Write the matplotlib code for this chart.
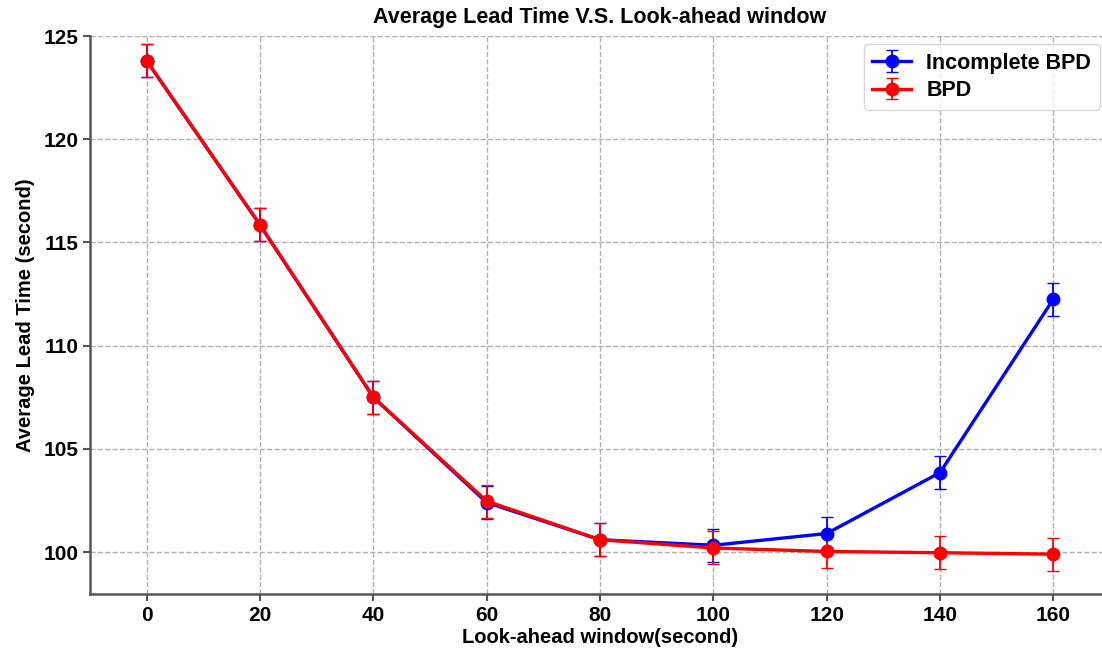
import matplotlib.pyplot as plt

plt.rcParams['font.family'] = ['Liberation Sans', 'DejaVu Sans']
plt.rcParams['font.weight'] = 'bold'

window = [0, 20, 40, 60, 80, 100, 120, 140, 160]
incomplete_bpd = [123.8, 115.85, 107.5, 102.4, 100.6, 100.33, 100.9, 103.85, 112.25]
incomplete_err = [0.8, 0.8, 0.8, 0.8, 0.8, 0.8, 0.8, 0.8, 0.8]
bpd = [123.8, 115.85, 107.5, 102.47, 100.6, 100.2, 100.03, 99.97, 99.9]
bpd_err = [0.8, 0.8, 0.8, 0.8, 0.8, 0.8, 0.8, 0.8, 0.8]


def plot_lead_time():
    fig = plt.figure(figsize=(11.02, 6.52), dpi=100)
    ax = fig.add_axes([90 / 1102, 1 - 594 / 652, 1020 / 1102, (594 - 36) / 652])

    ax.errorbar(window, incomplete_bpd, yerr=incomplete_err, color='#0000ff',
                marker='o', markersize=9, linewidth=2.4, capsize=4,
                elinewidth=1.3, label='Incomplete BPD')
    ax.errorbar(window, bpd, yerr=bpd_err, color='#ff0000',
                marker='o', markersize=9, linewidth=2.4, capsize=4,
                elinewidth=1.3, label='BPD')

    ax.set_xlim(-10, 170)
    ax.set_ylim(97.97, 125)
    ax.set_xticks(window)
    ax.set_yticks([100, 105, 110, 115, 120, 125])
    ax.grid(True, linestyle='--', color='#b0b0b0', linewidth=1)
    ax.set_axisbelow(True)

    for side in ['top', 'right']:
        ax.spines[side].set_visible(False)
    for side in ['left', 'bottom']:
        ax.spines[side].set_color('#555555')
        ax.spines[side].set_linewidth(1.8)
    ax.tick_params(colors='#555555', width=1.5, length=5, labelsize=15,
                   labelcolor='black')

    ax.set_title('Average Lead Time V.S. Look-ahead window', fontsize=15.5,
                 fontweight='bold', pad=9)
    ax.set_xlabel('Look-ahead window(second)', fontsize=14.5, fontweight='bold',
                  labelpad=2)
    ax.set_ylabel('Average Lead Time (second)', fontsize=14.5, fontweight='bold',
                  labelpad=6)
    ax.legend(loc='upper right', bbox_to_anchor=(0.99, (594 - 44) / 558),
              borderaxespad=0, prop={'size': 15.5, 'weight': 'bold'},
              handlelength=1.8, handletextpad=0.7,
              borderpad=0.4, labelspacing=0.3)

    fig.savefig('out.png', dpi=100)


if __name__ == '__main__':
    plot_lead_time()
